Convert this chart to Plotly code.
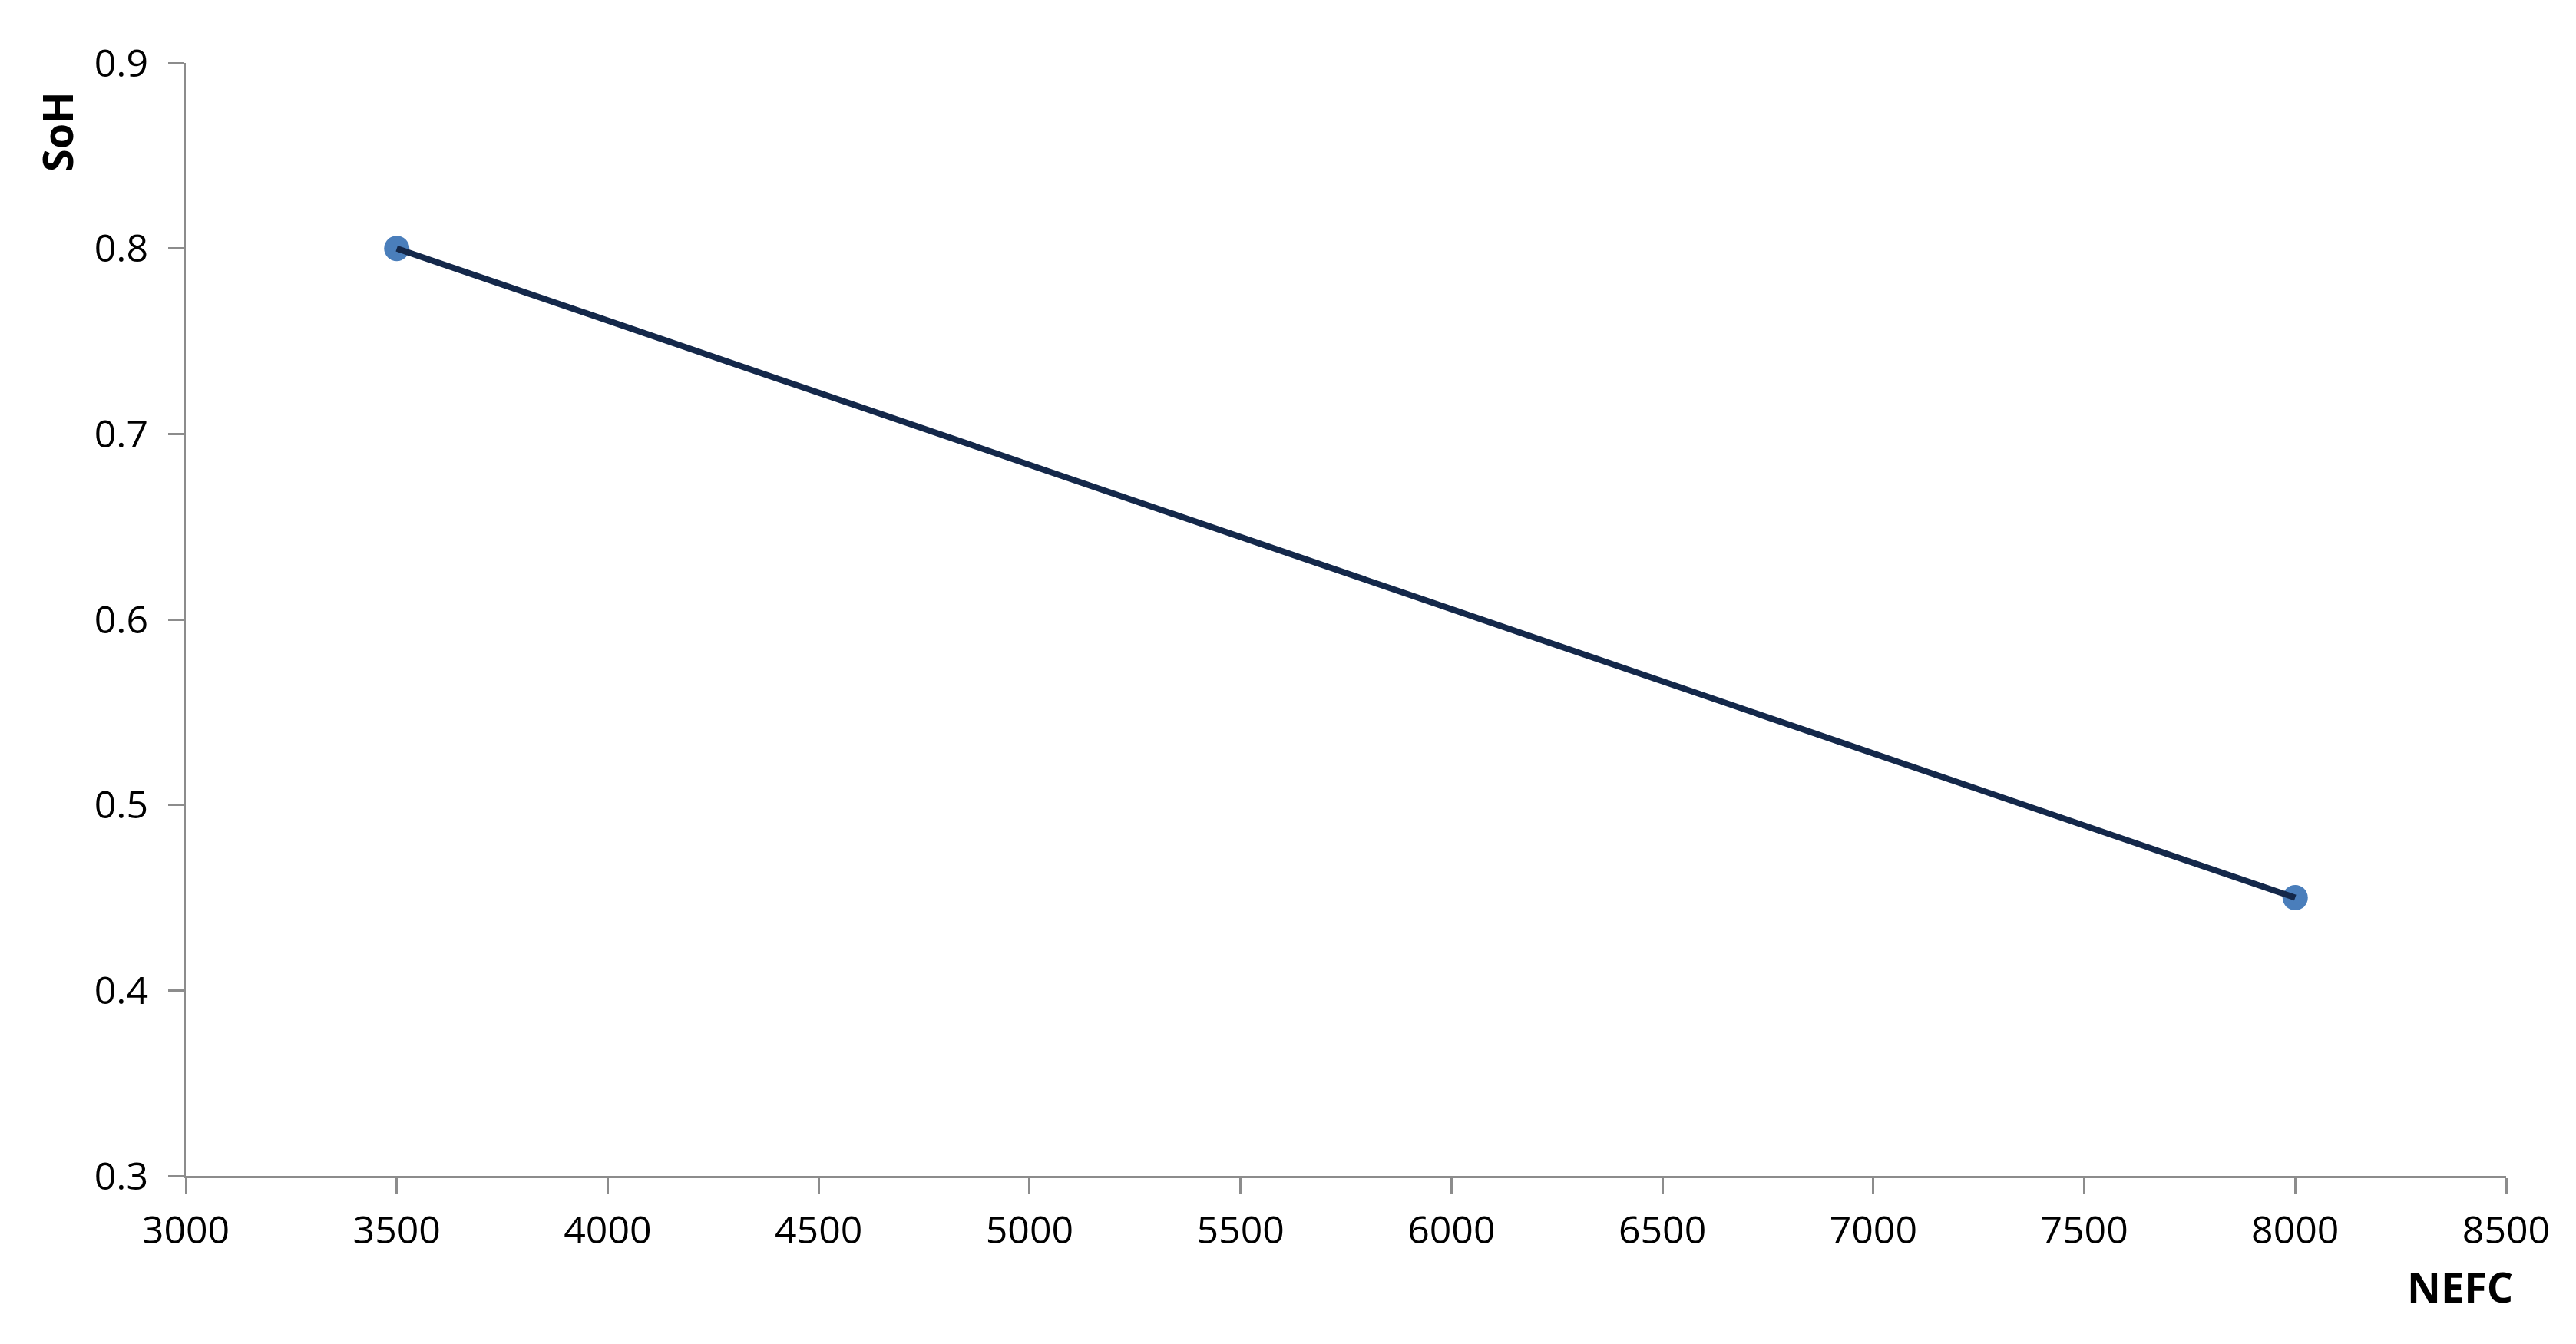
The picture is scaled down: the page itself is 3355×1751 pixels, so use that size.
import plotly.graph_objects as go

# data
nefc = [3500, 8000]
soh = [0.8, 0.45]

x_ticks = [3000, 3500, 4000, 4500, 5000, 5500, 6000, 6500, 7000, 7500, 8000, 8500]
y_ticks = [0.3, 0.4, 0.5, 0.6, 0.7, 0.8, 0.9]

FONT = "Open Sans, DejaVu Sans, sans-serif"
AXIS_GREY = "#8c8c8c"
W, H = 3355, 1751
ML, MR, MT, MB = 234, 99, 74, 227

fig = go.Figure()
# markers first so the line sits on top of them
fig.add_trace(go.Scatter(
    x=nefc, y=soh, mode="markers",
    marker=dict(size=33, color="#4a7ebb"),
    showlegend=False, cliponaxis=False,
))
fig.add_trace(go.Scatter(
    x=nefc, y=soh, mode="lines",
    line=dict(color="#14284a", width=8),
    showlegend=False,
))

fig.update_layout(
    width=W, height=H,
    paper_bgcolor="white", plot_bgcolor="white",
    margin=dict(l=ML, r=MR, t=MT, b=MB),
    font=dict(family=FONT, size=50, color="#000000"),
    xaxis=dict(
        range=[3000, 8500], tickvals=x_ticks, ticktext=[str(v) for v in x_ticks],
        showgrid=False, zeroline=False,
        showline=True, linecolor=AXIS_GREY, linewidth=3,
        ticks="outside", ticklen=20, tickwidth=3, tickcolor=AXIS_GREY,
        tickfont=dict(size=50), ticklabelstandoff=5,
    ),
    yaxis=dict(
        range=[0.3, 0.9], tickvals=y_ticks, ticktext=[f"{v:.1f}" for v in y_ticks],
        showgrid=False, zeroline=False,
        showline=True, linecolor=AXIS_GREY, linewidth=3,
        ticks="outside", ticklen=20, tickwidth=3, tickcolor=AXIS_GREY,
        tickfont=dict(size=50), ticklabelstandoff=16,
    ),
)

# axis titles placed by pixel position, converted to paper coordinates
pw = W - ML - MR
ph = H - MT - MB


def px_to_paper(px, py):
    return (px - ML) / pw, (H - py - MB) / ph


sx, sy = px_to_paper(66, 164)
nx, ny = px_to_paper(3196, 1668)
fig.add_annotation(text="<b>SoH</b>", x=sx, y=sy, xref="paper", yref="paper",
                   showarrow=False, textangle=-90, font=dict(size=54),
                   xanchor="center", yanchor="middle")
fig.add_annotation(text="<b>NEFC</b>", x=nx, y=ny, xref="paper", yref="paper",
                   showarrow=False, font=dict(size=54),
                   xanchor="center", yanchor="middle")

fig.write_html("out.html")
